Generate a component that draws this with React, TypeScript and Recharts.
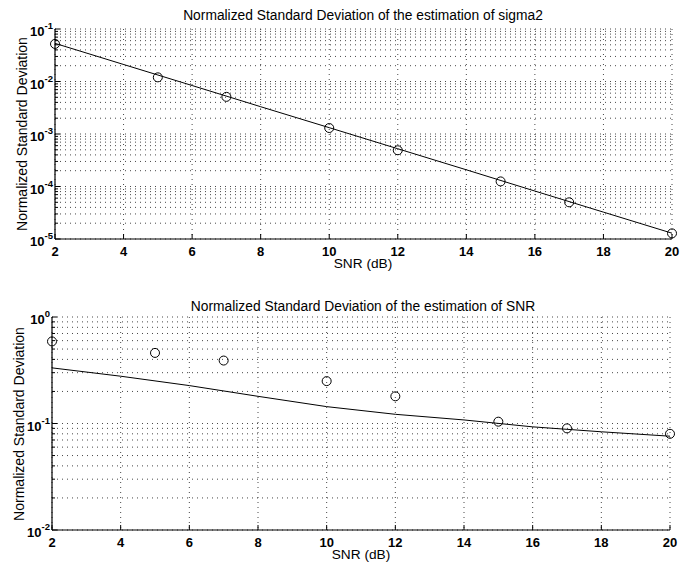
import React from 'react';
import { ComposedChart, Line, XAxis, YAxis, CartesianGrid } from 'recharts';

// ---- data ----
const snrMarks = [2, 5, 7, 10, 12, 15, 17, 20];
const sigma2Estimated = [0.052, 0.012, 0.0051, 0.0013, 0.00049, 0.000125, 0.00005, 0.0000128];
const snrCurveX = [2, 4, 6, 8, 10, 12, 14, 16, 18, 20];
const sigma2Curve = [0.0533, 0.0211, 0.00838, 0.00331, 0.00132, 0.000524, 0.000208, 0.0000819, 0.0000325, 0.0000129];
const snrEstimated = [0.59, 0.46, 0.39, 0.25, 0.18, 0.104, 0.09, 0.08];
const snrCurve = [0.333, 0.278, 0.227, 0.18, 0.144, 0.122, 0.108, 0.093, 0.0836, 0.076];

const xTicks = [2, 4, 6, 8, 10, 12, 14, 16, 18, 20];
const topDecades = [1e-5, 1e-4, 1e-3, 1e-2, 1e-1];
const bottomDecades = [1e-2, 1e-1, 1];
const minorMultipliers = [2, 3, 4, 5, 6, 7, 8, 9];

const logTicks = (decades: number[]) => {
  const out: number[] = [];
  decades.forEach((d, i) => {
    out.push(d);
    if (i < decades.length - 1) minorMultipliers.forEach((m) => out.push(m * d));
  });
  return out;
};

const toPoints = (xs: number[], ys: number[]) => xs.map((x, i) => ({ x, y: ys[i] }));

const FONT = '"Liberation Sans", Arial, Helvetica, sans-serif';

const isDecade = (v: number) => {
  const l = Math.log10(v);
  return Math.abs(l - Math.round(l)) < 1e-6;
};

const LeftTick = (props: any) => {
  const { x, y, payload } = props;
  const v = payload.value;
  const major = isDecade(v);
  const exp = Math.round(Math.log10(v));
  return (
    <g>
      <line x1={x} x2={x + (major ? 5 : 3)} y1={y} y2={y} stroke="#000" strokeWidth={1} />
      {major && (
        <text x={x - 2} y={y + 7} textAnchor="end" fontSize={13} fontWeight="bold" fontFamily={FONT} fill="#000">
          10
          <tspan dy={-7} fontSize={9.5}>{exp === 0 ? '0' : '-' + Math.abs(exp)}</tspan>
        </text>
      )}
    </g>
  );
};

const RightTick = (props: any) => {
  const { x, y, payload } = props;
  const major = isDecade(payload.value);
  return <line x1={x} x2={x - (major ? 5 : 3)} y1={y} y2={y} stroke="#000" strokeWidth={1} />;
};

const BottomTick = (props: any) => {
  const { x, y, payload } = props;
  return (
    <g>
      <line x1={x} x2={x} y1={y} y2={y - 5} stroke="#000" strokeWidth={1} />
      <text x={x} y={y + 17} textAnchor="middle" fontSize={13} fontWeight="bold" fontFamily={FONT} fill="#000">
        {payload.value}
      </text>
    </g>
  );
};

const TopTick = (props: any) => {
  const { x, y } = props;
  return <line x1={x} x2={x} y1={y} y2={y + 5} stroke="#000" strokeWidth={1} />;
};

type PanelProps = {
  height: number;
  margin: { top: number; right: number; bottom: number; left: number };
  yWidth: number;
  xHeight: number;
  decades: number[];
  curve: { x: number; y: number }[];
  marks: { x: number; y: number }[];
};

const Panel = ({ height, margin, yWidth, xHeight, decades, curve, marks }: PanelProps) => {
  const ticks = logTicks(decades);
  const domain = [decades[0], decades[decades.length - 1]];
  return (
    <ComposedChart width={680} height={height} margin={margin}>
      <CartesianGrid xAxisId="bottom" yAxisId="left" stroke="#333" strokeDasharray="1 4" strokeWidth={0.9} />
      <XAxis
        xAxisId="bottom"
        dataKey="x"
        type="number"
        domain={[2, 20]}
        ticks={xTicks}
        height={xHeight}
        tickSize={0}
        tickMargin={0}
        tickLine={false}
        tick={(p: any) => <BottomTick {...p} />}
        axisLine={{ stroke: '#000', strokeWidth: 1.2 }}
      />
      <XAxis
        xAxisId="top"
        orientation="top"
        dataKey="x"
        type="number"
        domain={[2, 20]}
        ticks={xTicks}
        height={0}
        tickSize={0}
        tickMargin={0}
        tickLine={false}
        tick={(p: any) => <TopTick {...p} />}
        axisLine={{ stroke: '#000', strokeWidth: 1.2 }}
        allowDataOverflow
      />
      <YAxis
        yAxisId="left"
        scale="log"
        type="number"
        domain={domain}
        ticks={ticks}
        interval={0}
        width={yWidth}
        tickSize={0}
        tickMargin={0}
        tickLine={false}
        tick={(p: any) => <LeftTick {...p} />}
        axisLine={{ stroke: '#000', strokeWidth: 1.2 }}
      />
      <YAxis
        yAxisId="right"
        orientation="right"
        scale="log"
        type="number"
        domain={domain}
        ticks={ticks}
        interval={0}
        width={0}
        tickSize={0}
        tickMargin={0}
        tickLine={false}
        tick={(p: any) => <RightTick {...p} />}
        axisLine={{ stroke: '#000', strokeWidth: 1.2 }}
        allowDataOverflow
      />
      <Line
        xAxisId="bottom"
        yAxisId="left"
        data={curve}
        dataKey="y"
        type="linear"
        stroke="#000"
        strokeWidth={1}
        dot={false}
        activeDot={false}
        isAnimationActive={false}
      />
      <Line
        xAxisId="bottom"
        yAxisId="left"
        data={marks}
        dataKey="y"
        type="linear"
        stroke="none"
        dot={{ r: 4.5, fill: 'none', stroke: '#000', strokeWidth: 1 }}
        activeDot={false}
        isAnimationActive={false}
      />
    </ComposedChart>
  );
};

export default function App() {
  return (
    <div style={{ position: 'absolute', left: 0, top: 0, width: 680, height: 566, background: '#fff' }}>
      <div style={{ position: 'absolute', left: 0, top: 0 }}>
        <Panel
          height={280}
          margin={{ top: 29, right: 8, bottom: 0, left: 0 }}
          yWidth={55}
          xHeight={41}
          decades={topDecades}
          curve={toPoints(snrCurveX, sigma2Curve)}
          marks={toPoints(snrMarks, sigma2Estimated)}
        />
      </div>
      <div style={{ position: 'absolute', left: 0, top: 280 }}>
        <Panel
          height={286}
          margin={{ top: 37, right: 10, bottom: 0, left: 0 }}
          yWidth={52}
          xHeight={36}
          decades={bottomDecades}
          curve={toPoints(snrCurveX, snrCurve)}
          marks={toPoints(snrMarks, snrEstimated)}
        />
      </div>
      <svg
        width={680}
        height={566}
        style={{ position: 'absolute', left: 0, top: 0, pointerEvents: 'none' }}
        fontFamily={FONT}
        fill="#000"
      >
        <text x={363} y={20} textAnchor="middle" fontSize={13.8}>
          Normalized Standard Deviation of the estimation of sigma2
        </text>
        <text x={363} y={268} textAnchor="middle" fontSize={13.7}>
          SNR (dB)
        </text>
        <text transform="translate(27,134) rotate(-90)" textAnchor="middle" fontSize={14}>
          Normalized Standard Deviation
        </text>
        <text x={363} y={311} textAnchor="middle" fontSize={13.8}>
          Normalized Standard Deviation of the estimation of SNR
        </text>
        <text x={361} y={559} textAnchor="middle" fontSize={13.7}>
          SNR (dB)
        </text>
        <text transform="translate(24,424) rotate(-90)" textAnchor="middle" fontSize={14}>
          Normalized Standard Deviation
        </text>
      </svg>
    </div>
  );
}
